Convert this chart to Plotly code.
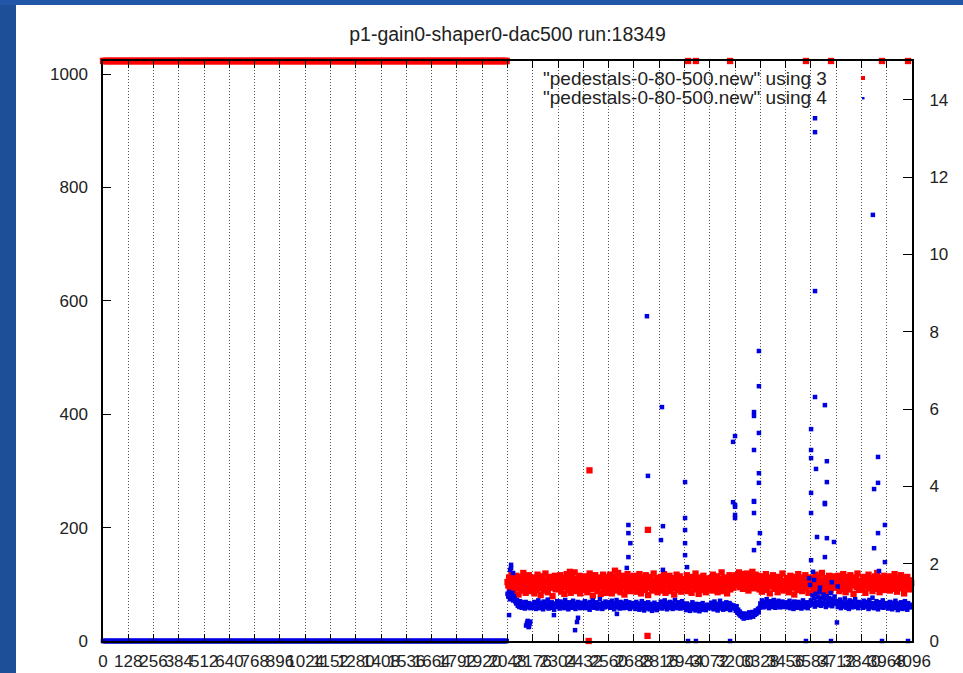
import plotly.graph_objects as go

TITLE = "p1-gain0-shaper0-dac500 run:18349"
KEY_LABELS = ['"pedestals-0-80-500.new" using 3', '"pedestals-0-80-500.new" using 4']

X_TICKS = list(range(0, 4097, 128))
Y_TICKS = [0, 200, 400, 600, 800, 1000]
Y2_TICKS = [0, 2, 4, 6, 8, 10, 12, 14]

# channels 0..2047 are saturated: column 3 pinned at 1023, column 4 at 0
low_channels = list(range(0, 2048, 4))
col3_low = [1023] * len(low_channels)
col4_low = [0.0] * len(low_channels)

# channels 2048..4095, every 4th channel, one row per 128-channel block
col3_band = [
    104, 98, 112, 91, 107, 118, 95, 101, 87, 110, 99, 115, 93, 105, 82, 108, 97, 113, 89, 102, 120, 94, 106, 85, 111, 100, 92, 116, 96, 103, 88, 109,
    95, 107, 84, 112, 99, 90, 117, 103, 93, 108, 81, 101, 114, 97, 89, 106, 119, 92, 104, 86, 110, 98, 113, 94, 102, 79, 107, 96, 115, 91, 105, 100,
    109, 93, 101, 116, 87, 104, 97, 111, 83, 106, 95, 118, 99, 90, 108, 102, 85, 113, 96, 105, 92, 121, 100, 88, 110, 97, 103, 115, 84, 107, 94, 112,
    98, 114, 90, 103, 107, 86, 111, 95, 119, 101, 92, 106, 80, 109, 97, 116, 93, 104, 88, 112, 99, 105, 83, 110, 96, 117, 91, 102, 108, 85, 100, 113,
    92, 106, 117, 97, 84, 110, 101, 94, 113, 89, 104, 98, 120, 93, 107, 86, 111, 100, 95, 115, 82, 103, 109, 91, 118, 97, 105, 88, 112, 99, 94, 108,
    115, 96, 103, 87, 110, 99, 93, 118, 105, 84, 101, 112, 95, 108, 90, 116, 98, 104, 81, 109, 94, 113, 100, 89, 106, 119, 92, 102, 97, 111, 86, 104,
    101, 89, 113, 97, 106, 92, 118, 103, 85, 110, 96, 107, 99, 115, 88, 104, 93, 111, 100, 82, 108, 95, 117, 102, 90, 105, 114, 97, 87, 109, 103, 94,
    106, 93, 99, 116, 88, 104, 111, 96, 102, 85, 113, 98, 107, 91, 119, 100, 94, 109, 83, 105, 97, 112, 90, 103, 115, 95, 101, 86, 110, 99, 106, 92,
    97, 111, 104, 89, 117, 100, 93, 108, 96, 114, 86, 103, 99, 110, 92, 121, 105, 88, 101, 112, 95, 107, 84, 109, 98, 116, 91, 104, 100, 113, 94, 102,
    108, 116, 99, 112, 104, 121, 95, 110, 101, 118, 92, 107, 114, 103, 97, 119, 106, 89, 113, 100, 111, 96, 122, 105, 93, 109, 117, 102, 98, 115, 104, 91,
    99, 110, 87, 105, 114, 94, 102, 118, 90, 107, 98, 112, 84, 103, 109, 96, 116, 101, 92, 108, 99, 113, 86, 104, 97, 111, 93, 106, 119, 100, 89, 105,
    103, 92, 111, 98, 86, 107, 115, 100, 94, 109, 102, 82, 113, 97, 105, 90, 118, 99, 108, 95, 104, 88, 112, 101, 96, 116, 93, 107, 100, 85, 110, 98,
    112, 97, 104, 90, 109, 101, 117, 94, 106, 99, 87, 113, 103, 96, 120, 92, 108, 100, 84, 111, 98, 105, 93, 115, 102, 89, 107, 99, 114, 95, 103, 110,
    94, 106, 100, 115, 88, 103, 97, 110, 92, 118, 105, 99, 86, 108, 113, 96, 101, 91, 116, 104, 98, 109, 83, 107, 100, 112, 95, 119, 102, 90, 106, 97,
    105, 91, 113, 99, 107, 85, 110, 102, 96, 117, 93, 104, 100, 111, 88, 106, 98, 114, 92, 103, 120, 97, 108, 86, 112, 101, 94, 109, 99, 115, 90, 104,
    100, 112, 95, 106, 89, 114, 102, 97, 109, 92, 118, 104, 99, 87, 111, 96, 105, 101, 116, 93, 108, 98, 84, 110, 103, 95, 113, 100, 91, 107, 97, 102,
]

col4_band = [
    1.22, 1.15, 1.27, 1.08, 1.19, 1.12, 1.24, 1.05, 1.16, 1.10, 1.02, 0.97, 1.06, 0.91, 0.99, 0.88, 1.03, 0.94, 0.86, 1.00, 0.92, 0.97, 0.84, 1.01, 0.90, 0.95, 0.87, 0.98, 0.93, 0.85, 0.96, 0.89,
    0.94, 0.86, 1.01, 0.91, 0.83, 0.97, 0.89, 1.05, 0.92, 0.85, 0.99, 0.88, 0.95, 0.82, 1.02, 0.90, 0.96, 0.87, 0.93, 1.07, 0.84, 0.98, 0.91, 0.86, 1.00, 0.89, 0.94, 0.81, 0.97, 0.92, 0.88, 1.03,
    0.90, 0.97, 0.84, 1.02, 0.93, 0.87, 0.99, 0.91, 0.85, 1.06, 0.94, 0.88, 0.96, 0.82, 1.00, 0.92, 0.86, 0.98, 0.90, 1.04, 0.87, 0.95, 0.83, 0.97, 0.91, 1.01, 0.88, 0.94, 0.85, 0.99, 0.92, 0.86,
    0.96, 0.88, 1.03, 0.92, 0.85, 0.99, 0.90, 0.94, 0.81, 1.01, 0.93, 0.87, 1.05, 0.91, 0.86, 0.97, 0.89, 1.00, 0.84, 0.95, 0.92, 1.08, 0.88, 0.96, 0.83, 0.98, 0.91, 0.87, 1.02, 0.94, 0.89, 0.97,
    0.91, 1.00, 0.86, 0.95, 1.04, 0.89, 0.93, 0.82, 0.98, 0.92, 1.06, 0.87, 0.96, 0.90, 0.84, 1.01, 0.94, 0.88, 0.99, 0.85, 0.97, 0.91, 1.03, 0.86, 0.93, 0.89, 1.00, 0.83, 0.95, 0.92, 0.87, 0.98,
    0.89, 0.95, 0.83, 1.01, 0.90, 0.86, 0.97, 0.81, 0.93, 0.88, 1.03, 0.85, 0.92, 0.79, 0.98, 0.87, 0.94, 0.84, 1.00, 0.90, 0.82, 0.96, 0.88, 0.78, 0.93, 0.86, 0.99, 0.83, 0.91, 0.80, 0.95, 0.87,
    0.93, 0.87, 1.02, 0.90, 0.84, 0.97, 0.91, 1.05, 0.88, 0.95, 0.82, 0.99, 0.92, 0.86, 1.01, 0.89, 0.94, 0.83, 0.98, 0.91, 1.06, 0.87, 0.93, 0.85, 1.00, 0.90, 0.96, 0.84, 0.92, 1.03, 0.88, 0.95,
    0.86, 0.92, 0.80, 0.97, 0.88, 0.83, 0.94, 0.78, 0.90, 0.85, 1.00, 0.82, 0.89, 0.93, 0.79, 0.96, 0.87, 0.84, 0.91, 0.77, 0.95, 0.86, 0.81, 0.98, 0.88, 0.83, 0.92, 0.80, 0.89, 0.94, 0.85, 0.90,
    0.91, 0.85, 0.99, 0.88, 0.94, 0.82, 1.02, 0.90, 0.86, 0.96, 0.79, 0.93, 0.88, 1.04, 0.84, 0.92, 0.97, 0.81, 0.89, 0.95, 0.86, 1.00, 0.83, 0.91, 0.87, 0.98, 0.80, 0.94, 0.89, 0.85, 0.92, 0.88,
    0.84, 0.78, 0.90, 0.73, 0.81, 0.69, 0.76, 0.65, 0.72, 0.62, 0.70, 0.58, 0.67, 0.63, 0.71, 0.60, 0.68, 0.64, 0.74, 0.61, 0.69, 0.66, 0.75, 0.63, 0.72, 0.68, 0.79, 0.70, 0.77, 0.83, 0.74, 0.86,
    0.97, 0.90, 1.05, 0.93, 0.87, 1.01, 0.95, 0.89, 1.08, 0.92, 0.98, 0.85, 1.03, 0.94, 0.88, 0.99, 0.91, 1.06, 0.96, 0.86, 1.00, 0.93, 0.89, 1.04, 0.95, 0.87, 0.98, 0.91, 1.02, 0.88, 0.96, 0.92,
    0.93, 1.00, 0.87, 0.96, 0.90, 1.04, 0.85, 0.95, 0.91, 0.98, 0.83, 1.02, 0.92, 0.88, 0.97, 0.86, 1.01, 0.94, 0.89, 0.99, 0.84, 0.93, 1.05, 0.90, 0.96, 0.87, 0.92, 1.00, 0.85, 0.95, 0.91, 0.98,
    1.05, 0.94, 1.18, 0.98, 1.10, 0.89, 1.22, 1.02, 0.93, 1.14, 0.97, 1.27, 1.06, 0.91, 1.12, 0.99, 1.20, 0.95, 1.08, 0.88, 1.16, 1.01, 0.92, 1.11, 0.96, 1.24, 1.03, 0.90, 1.09, 0.97, 1.15, 1.00,
    0.96, 1.03, 0.88, 0.99, 0.92, 1.07, 0.85, 0.95, 1.01, 0.89, 0.97, 1.10, 0.91, 0.86, 1.00, 0.94, 0.83, 1.05, 0.93, 0.98, 0.87, 1.02, 0.90, 0.96, 1.08, 0.88, 0.94, 0.99, 0.85, 1.01, 0.92, 0.97,
    0.92, 0.99, 0.86, 1.04, 0.94, 0.88, 1.01, 0.90, 0.96, 0.83, 1.06, 0.93, 0.87, 0.98, 1.12, 0.91, 0.85, 0.97, 0.89, 1.03, 0.94, 0.82, 1.00, 0.92, 0.87, 0.99, 0.90, 1.05, 0.86, 0.95, 0.91, 0.98,
    0.90, 0.97, 0.84, 0.93, 1.01, 0.87, 0.95, 0.82, 0.99, 0.91, 0.86, 1.04, 0.88, 0.94, 0.80, 0.97, 0.92, 0.85, 1.00, 0.89, 0.83, 0.96, 0.90, 1.03, 0.86, 0.93, 0.81, 0.98, 0.88, 0.94, 0.91, 0.87,
]

# dead channels in the upper half: column 3 saturates, column 4 reads 0
dead_channels = [2962, 3002, 3175, 3559, 3686, 3944, 4076]
col3_dead = [1023, 1023, 1023, 1023, 1023, 1023, 1023]
col4_dead = [0.0, 0.0, 0.0, 0.0, 0.0, 0.0, 0.0]

# isolated column-3 readings
col3_odd_ch = [2364, 2459, 2463, 2592, 2757, 2759]
col3_odd_val = [122, 0, 301, 124, 9, 196]

# isolated column-4 readings
col4_odd_ch = [
    2056, 2061, 2066, 2066, 2076, 2142, 2147, 2150, 2152, 2155, 2157, 2160, 2163,
    2283, 2390, 2400, 2405, 2602, 2652, 2660, 2660, 2670, 2660, 2754, 2759,
    2825, 2830, 2835, 2835, 2947, 2947, 2947, 2947, 2947, 2957,
    3190, 3190, 3200, 3200, 3200, 3200, 3200,
    3296, 3296, 3296, 3296, 3296, 3296, 3296, 3321, 3321, 3321, 3321, 3321, 3321, 3326,
    3575, 3580, 3585, 3585, 3585, 3585, 3585, 3585, 3595, 3600, 3605, 3605, 3605, 3605,
    3610, 3615, 3630, 3655, 3655, 3655, 3655, 3665, 3665, 3665, 3690, 3701, 3716, 3720,
    3898, 3904, 3904, 3924, 3924, 3924, 3929, 3959, 3959,
]
col4_odd_val = [
    0.67, 1.84, 1.97, 1.89, 1.76, 0.40, 0.47, 0.52, 0.42, 0.36, 0.38, 0.45, 0.50,
    0.67, 0.28, 0.49, 0.60, 0.70, 1.89, 3.00, 2.79, 2.53, 2.17, 8.40, 4.27,
    2.61, 6.05, 2.97, 1.84, 4.11, 3.18, 2.87, 2.53, 2.22, 1.91,
    5.15, 3.59, 5.30, 3.47, 3.52, 3.26, 3.18,
    5.92, 5.82, 4.94, 3.62, 3.60, 3.31, 2.35, 7.50, 6.59, 5.38, 4.34, 4.09, 2.53, 2.79,
    1.62, 1.45, 5.48, 4.94, 4.73, 3.83, 3.31, 2.09, 1.79, 1.58, 13.52, 13.16, 9.05, 6.31,
    4.45, 2.69, 1.38, 6.10, 3.54, 3.57, 2.17, 4.65, 4.11, 2.66, 1.52, 2.56, 0.48, 1.41,
    11.02, 3.93, 2.40, 4.76, 4.09, 2.79, 1.81, 3.00, 2.04,
]

RED = "#ff0000"
BLUE = "#0000e0"
FONT = "Liberation Sans, Arial, Helvetica, sans-serif"

col3_band_ch = list(range(2048, 2048 + 4 * len(col3_band), 4))
col4_band_ch = list(range(2048, 2048 + 4 * len(col4_band), 4))

x3 = low_channels + col3_band_ch + dead_channels + col3_odd_ch
y3 = col3_low + col3_band + col3_dead + col3_odd_val
x4 = low_channels + col4_band_ch + dead_channels + col4_odd_ch
y4 = col4_low + col4_band + col4_dead + col4_odd_val

fig = go.Figure()
fig.add_trace(go.Scatter(
    x=x3, y=y3, mode="markers", name=KEY_LABELS[0], yaxis="y",
    marker=dict(symbol="square", size=6.3, color=RED, line=dict(width=0)),
    cliponaxis=False, showlegend=False,
))
fig.add_trace(go.Scatter(
    x=x4, y=y4, mode="markers", name=KEY_LABELS[1], yaxis="y2",
    marker=dict(symbol="square", size=4.5, color=BLUE, line=dict(width=0)),
    cliponaxis=False, showlegend=False,
))

W, H = 963, 673
L, R, T, B = 103, 51, 61, 32
pw, ph = W - L - R, H - T - B


def px_x(px):
    return (px - L) / pw


def px_y(py):
    return (H - B - py) / ph


shapes = [
    # slide frame
    dict(type="rect", xref="paper", yref="paper", layer="above",
         x0=px_x(0), x1=px_x(16), y0=px_y(H), y1=px_y(0),
         fillcolor="#1d4e98", line=dict(width=0)),
    dict(type="rect", xref="paper", yref="paper", layer="above",
         x0=px_x(0), x1=px_x(W), y0=px_y(5), y1=px_y(0),
         fillcolor="#2257a8", line=dict(width=0)),
    # opaque key area
    dict(type="rect", xref="paper", yref="paper", layer="between",
         x0=0.5, x1=1.0, y0=px_y(106), y1=px_y(63),
         fillcolor="white", line=dict(width=0)),
    # key samples
    dict(type="rect", xref="paper", yref="paper", layer="above",
         x0=px_x(861), x1=px_x(865), y0=px_y(80), y1=px_y(76),
         fillcolor=RED, line=dict(width=0)),
    dict(type="rect", xref="paper", yref="paper", layer="above",
         x0=px_x(862), x1=px_x(864.5), y0=px_y(99.5), y1=px_y(97),
         fillcolor=BLUE, line=dict(width=0)),
]

annotations = [
    dict(text=KEY_LABELS[0], xref="paper", yref="paper", x=px_x(829), y=px_y(78),
         xanchor="right", yanchor="middle", showarrow=False,
         font=dict(family=FONT, size=19, color="#222")),
    dict(text=KEY_LABELS[1], xref="paper", yref="paper", x=px_x(829), y=px_y(98),
         xanchor="right", yanchor="middle", showarrow=False,
         font=dict(family=FONT, size=19, color="#222")),
]

fig.update_layout(
    width=W, height=H,
    margin=dict(l=L, r=R, t=T, b=B, pad=0, autoexpand=False),
    paper_bgcolor="white", plot_bgcolor="white",
    title=dict(text=TITLE, x=px_x(507.5), xref="paper", xanchor="center",
               y=1 - 34 / H, yref="container", yanchor="middle", automargin=False,
               font=dict(family=FONT, size=19.5, color="#222")),
    font=dict(family=FONT, size=17, color="#222"),
    xaxis=dict(
        range=[0, 4096], tickmode="array", tickvals=X_TICKS,
        ticktext=[str(v) for v in X_TICKS], tickangle=0, automargin=False,
        ticks="inside", ticklen=7, tickwidth=1, tickcolor="black",
        showline=True, linecolor="black", linewidth=1.5, mirror="ticks",
        showgrid=True, gridcolor="#555555", gridwidth=1, griddash="1px,2px",
        zeroline=False, ticklabelstandoff=4,
        tickfont=dict(family=FONT, size=17, color="#222"),
    ),
    yaxis=dict(
        range=[0, 1023], tickmode="array", tickvals=Y_TICKS, automargin=False,
        ticks="inside", ticklen=8, tickwidth=1, tickcolor="black",
        showline=True, linecolor="black", linewidth=1.5, mirror=False,
        showgrid=False, zeroline=False, ticklabelstandoff=10,
        tickfont=dict(family=FONT, size=17, color="#222"),
    ),
    yaxis2=dict(
        range=[0, 15], tickmode="array", tickvals=Y2_TICKS, overlaying="y",
        side="right", anchor="x", automargin=False,
        ticks="inside", ticklen=9, tickwidth=1, tickcolor="black",
        showline=True, linecolor="black", linewidth=2,
        showgrid=False, zeroline=False, ticklabelstandoff=12,
        tickfont=dict(family=FONT, size=17, color="#222"),
    ),
    shapes=shapes,
    annotations=annotations,
)

fig.write_html("out.html")
